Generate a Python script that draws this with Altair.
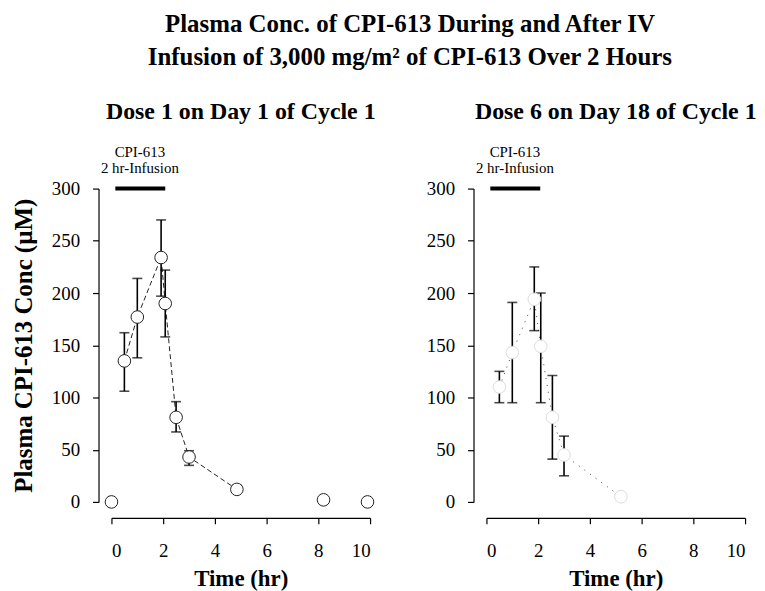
import altair as alt
import pandas as pd

FONT = "Liberation Serif"

# ---- Dose 1 on Day 1 of Cycle 1 ----
d1_time = [0.0, 0.5, 1.0, 1.92, 2.08, 2.5, 3.0, 4.85, 8.2, 9.9]
d1_mean = [0, 135, 177, 234, 190, 81, 43, 12, 2, 0]
d1_lower = [0, 106, 138, 197, 158, 67, 35, 12, 2, 0]
d1_upper = [0, 162, 214, 270, 222, 96, 49, 16, 2, 0]
d1_connected = [False, True, True, True, True, True, True, True, False, False]

# ---- Dose 6 on Day 18 of Cycle 1 ----
d6_time = [0.5, 1.0, 1.85, 2.1, 2.55, 3.0, 5.2]
d6_mean = [110, 143, 194, 149, 81, 45, 5]
d6_lower = [95, 95, 164, 95, 41, 25, 5]
d6_upper = [125, 191, 225, 200, 121, 63, 5]
d6_connected = [True, True, True, True, True, True, True]

# infusion annotation (2 hr infusion)
infusion_start = 0.15
infusion_end = 2.08
infusion_level = 300
note_text = ["CPI-613", "2 hr-Infusion"]
note_time = 1.1
note_level = [335, 320]

x_ticks = [0, 2, 4, 6, 8, 10]
y_ticks = [0, 50, 100, 150, 200, 250, 300]

main_title = ["Plasma Conc. of CPI-613 During and After IV",
              "Infusion of 3,000 mg/m\u00b2 of CPI-613 Over 2 Hours"]


def panel(time, mean, lower, upper, connected, title, ytitle,
          line_dash, line_color, circle_stroke):
    df = pd.DataFrame({"t": time, "m": mean, "lo": lower, "hi": upper,
                       "c": connected})
    xs = alt.Scale(domain=[0, 10], nice=False)
    ys = alt.Scale(domain=[0, 300], nice=False)
    xaxis = alt.Axis(values=x_ticks, title="Time (hr)", offset=16,
                     labelPadding=18, titlePadding=7, tickSize=6)
    yargs = dict(values=y_ticks, offset=13, labelPadding=13, tickSize=6,
                 titleFontSize=25, titlePadding=15)
    if ytitle:
        yaxis = alt.Axis(title=ytitle, **yargs)
    else:
        yaxis = alt.Axis(title=None, **yargs)
    X = alt.X("t:Q", scale=xs, axis=xaxis)
    base = alt.Chart(df)

    line = base.transform_filter("datum.c").mark_line(
        color=line_color, strokeWidth=1, strokeDash=line_dash
    ).encode(x=X, y=alt.Y("m:Q", scale=ys, axis=yaxis))

    bars = base.mark_rule(color="black", strokeWidth=1.6).encode(
        x=X, y=alt.Y("lo:Q", scale=ys, axis=yaxis), y2="hi:Q")

    caps = base.transform_fold(["lo", "hi"], as_=["k", "v"]).mark_tick(
        orient="horizontal", size=10, thickness=1.6, color="black"
    ).encode(x=X, y=alt.Y("v:Q", scale=ys, axis=yaxis))

    pts = base.mark_point(shape="circle", size=160, filled=True,
                          fill="white", stroke=circle_stroke,
                          strokeWidth=1, opacity=1).encode(
        x=X, y=alt.Y("m:Q", scale=ys, axis=yaxis))

    inf = alt.Chart(pd.DataFrame({"t0": [infusion_start], "t1": [infusion_end],
                                  "y": [infusion_level]})).mark_rule(
        color="black", strokeWidth=4).encode(
        x=alt.X("t0:Q", scale=xs, axis=xaxis), x2="t1:Q",
        y=alt.Y("y:Q", scale=ys, axis=yaxis))

    note = alt.Chart(pd.DataFrame({"txt": note_text, "t": [note_time] * 2,
                                   "y": note_level})).mark_text(
        font=FONT, fontSize=15, color="black", align="center",
        baseline="middle").encode(
        x=alt.X("t:Q", scale=xs, axis=xaxis),
        y=alt.Y("y:Q", scale=ys, axis=yaxis), text="txt:N")

    return alt.layer(line, bars, caps, pts, inf, note).properties(
        width=260, height=315,
        title=alt.TitleParams(title, fontSize=24, fontWeight="bold",
                              font=FONT, anchor="middle", frame="group",
                              offset=21))


left = panel(d1_time, d1_mean, d1_lower, d1_upper, d1_connected,
             "Dose 1 on Day 1 of Cycle 1", "Plasma CPI-613 Conc (\u00b5M)",
             [5, 3], "#222222", "#222222")
right = panel(d6_time, d6_mean, d6_lower, d6_upper, d6_connected,
              "Dose 6 on Day 18 of Cycle 1", None,
              [1, 6], "#444444", "#dcdcdc")

chart = alt.hconcat(left, right, spacing=50).properties(
    title=alt.TitleParams(main_title, fontSize=25, fontWeight="bold",
                          font=FONT, anchor="middle", lineHeight=34,
                          dx=26, offset=30),
    padding={"left": 3, "top": 2, "right": 0, "bottom": 0},
).configure_axis(
    labelFont=FONT, titleFont=FONT, labelFontSize=19, titleFontSize=23,
    titleFontWeight="bold", labelColor="black", titleColor="black",
    domainColor="black", tickColor="black", grid=False, domainWidth=1.2,
    tickWidth=1.2,
).configure_view(stroke=None).configure_title(color="black")

chart.save("out.html", embed_options={"renderer": "svg", "actions": False})
